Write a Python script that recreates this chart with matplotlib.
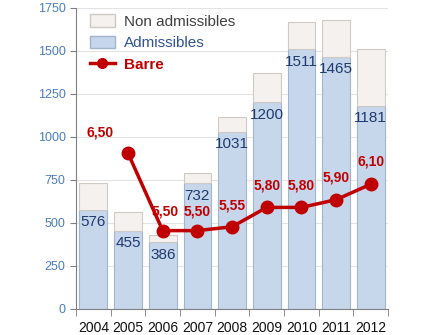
import numpy as np
import matplotlib.pyplot as plt
from matplotlib.patches import Patch
from matplotlib.lines import Line2D

plt.rcParams['font.family'] = ['Liberation Sans', 'DejaVu Sans']

years = ['2004', '2005', '2006', '2007', '2008', '2009', '2010', '2011', '2012']
admissibles = [576, 455, 386, 732, 1031, 1200, 1511, 1465, 1181]
non_admissibles = [157, 109, 44, 57, 85, 172, 157, 215, 331]
barre_years = ['2005', '2006', '2007', '2008', '2009', '2010', '2011', '2012']
barre = [6.50, 5.50, 5.50, 5.55, 5.80, 5.80, 5.90, 6.10]

blue = '#C6D6EB'
blue_edge = '#A3B5CD'
beige = '#F4F1EE'
beige_edge = '#CFCAC5'
red = '#C00000'
navy = '#1F3A6E'

fig = plt.figure(figsize=(4.27, 3.35), dpi=100)
ax = fig.add_axes([0.178, 0.078, 0.731, 0.8985])

x = np.arange(len(years))
w = 0.8
ax.bar(x, admissibles, w, color=blue, edgecolor=blue_edge, linewidth=0.8, zorder=2)
ax.bar(x, non_admissibles, w, bottom=admissibles, color=beige,
       edgecolor=beige_edge, linewidth=0.8, zorder=2)

for xi, v in zip(x, admissibles):
    ax.annotate(str(v), (xi, v), xytext=(0, -4), textcoords='offset points',
                ha='center', va='top', fontsize=11, color=navy, zorder=4)

ax.set_xlim(-0.5, len(years) - 0.5)
ax.set_ylim(0, 1750)
ax.set_yticks(range(0, 1751, 250))
ax.yaxis.grid(True, color='#E3E3E3', linewidth=0.8, zorder=0)
ax.set_axisbelow(True)
ax.set_xticks(x)
ax.set_xticklabels(years, fontsize=10, color='#111111')
ax.set_xticks(np.arange(-0.5, len(years)), minor=True)
ax.tick_params(axis='x', which='major', length=0, pad=9)
ax.tick_params(axis='x', which='minor', length=5, color='#808080')
ax.tick_params(axis='y', length=4, color='#808080', labelsize=9, labelcolor='#4A7EBB')
for s in ['top', 'right']:
    ax.spines[s].set_visible(False)
for s in ['left', 'bottom']:
    ax.spines[s].set_color('#808080')

# line on a hidden second scale
ax2 = ax.twinx()
ax2.set_ylim(4.489, 8.378)
ax2.axis('off')
bx = [years.index(y) for y in barre_years]
ax2.plot(bx, barre, color=red, linewidth=2.5, marker='o', markersize=9, zorder=5)
offsets = [(-20, 10), (2, 9), (0, 9), (0, 10), (0, 11), (0, 11), (0, 11), (0, 11)]
for xi, v, off in zip(bx, barre, offsets):
    ax2.annotate(f'{v:.2f}'.replace('.', ','), (xi, v), xytext=off,
                 textcoords='offset points', ha='center', va='bottom',
                 fontsize=10, fontweight='bold', color=red)

handles = [Patch(facecolor=beige, edgecolor=beige_edge),
           Patch(facecolor=blue, edgecolor=blue_edge),
           Line2D([0], [0], color=red, linewidth=2.5, marker='o', markersize=7)]
leg = ax2.legend(handles, ['Non admissibles', 'Admissibles', 'Barre'],
                 loc='upper left', bbox_to_anchor=(0.0, 1.025), frameon=False,
                 fontsize=11, handlelength=1.65, handleheight=0.9,
                 handletextpad=0.6, labelspacing=0.45)
txt = leg.get_texts()
txt[0].set_color('#404040')
txt[1].set_color('#2F5597')
txt[2].set_color(red)
txt[2].set_fontweight('bold')

fig.savefig('out.png', dpi=100)
